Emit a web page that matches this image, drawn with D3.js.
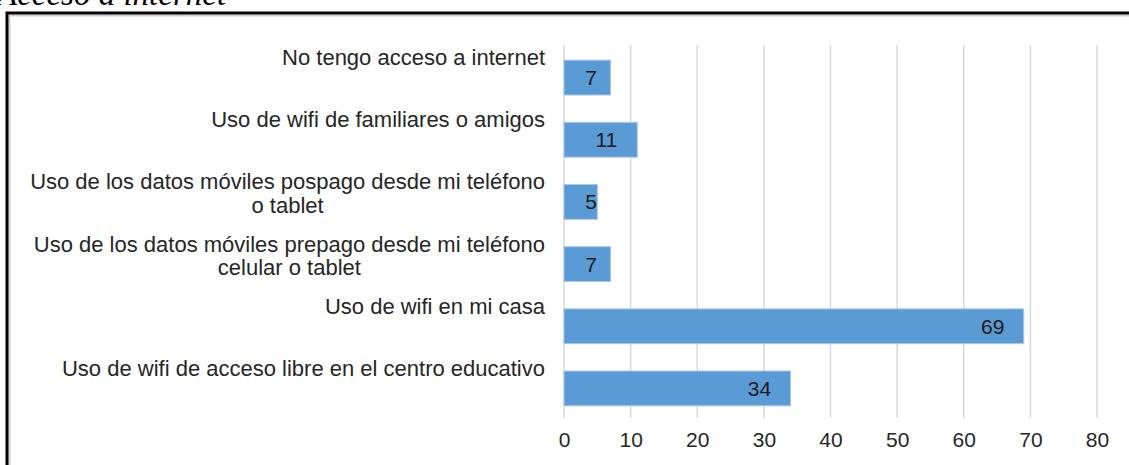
<!DOCTYPE html>
<html>
<head>
<meta charset="utf-8">
<script src="https://cdn.jsdelivr.net/npm/d3@7"></script>
<style>
    body { margin: 0; background: #fff; }
    svg { display: block; }
</style>
</head>
<body>
<div id="chart"></div>
<script>
// categories top to bottom, each label split into its lines
var categories = [
    ["No tengo acceso a internet"],
    ["Uso de wifi de familiares o amigos"],
    ["Uso de los datos móviles pospago desde mi teléfono", "o tablet"],
    ["Uso de los datos móviles prepago desde mi teléfono", "celular o tablet"],
    ["Uso de wifi en mi casa"],
    ["Uso de wifi de acceso libre en el centro educativo"]
];
var values = [7, 11, 5, 7, 69, 34];
var xTicks = [0, 10, 20, 30, 40, 50, 60, 70, 80];
var title = "Acceso a internet";

var width = 1129, height = 465;
var fontFam = "'Liberation Sans', Arial, sans-serif";

var svg = d3.select("#chart").append("svg")
    .attr("width", width)
    .attr("height", height);

// title, cut off at the top like the scan
svg.append("text")
    .attr("x", -3)
    .attr("y", 5)
    .attr("font-family", "'Liberation Serif', 'Times New Roman', serif")
    .attr("font-style", "italic")
    .attr("font-size", 33)
    .attr("fill", "#000")
    .text(title);

// frame (light inner line + black outer line)
svg.append("rect")
    .attr("x", 9.5).attr("y", 15.5)
    .attr("width", width + 20).attr("height", height + 20)
    .attr("fill", "none")
    .attr("stroke", "#d0d0d0")
    .attr("stroke-width", 2);
svg.append("rect")
    .attr("x", 7).attr("y", 13)
    .attr("width", width + 20).attr("height", height + 20)
    .attr("fill", "none")
    .attr("stroke", "#000")
    .attr("stroke-width", 3);

var plotTop = 45, plotBottom = 418;

var x = d3.scaleLinear()
    .domain([0, 80])
    .range([564, 1097]);

var y = d3.scaleBand()
    .domain(d3.range(categories.length))
    .range([plotTop + 1.5, plotBottom + 1.5])
    .paddingInner(0.44)
    .paddingOuter(0.22);

// vertical gridlines
svg.append("g")
    .selectAll("line")
    .data(xTicks)
    .enter().append("line")
    .attr("x1", function (d) { return x(d); })
    .attr("x2", function (d) { return x(d); })
    .attr("y1", plotTop)
    .attr("y2", plotBottom)
    .attr("stroke", "#d9d9d9")
    .attr("stroke-width", 1.5);

// x axis labels
var xAxis = d3.axisBottom(x)
    .tickValues(xTicks)
    .tickSize(0)
    .tickPadding(14);

var gx = svg.append("g")
    .attr("transform", "translate(0," + plotBottom + ")")
    .call(xAxis);
gx.select(".domain").remove();
gx.selectAll("text")
    .attr("font-family", fontFam)
    .attr("font-size", 21)
    .attr("fill", "#262626");

// bars
svg.append("g")
    .selectAll("rect")
    .data(values)
    .enter().append("rect")
    .attr("x", x(0))
    .attr("y", function (d, i) { return y(i); })
    .attr("width", function (d) { return x(d) - x(0); })
    .attr("height", y.bandwidth())
    .attr("fill", "#5b9bd5")
    .attr("stroke", "#a9c8ea")
    .attr("stroke-width", 1);

// value labels, inside end of bar
svg.append("g")
    .selectAll("text")
    .data(values)
    .enter().append("text")
    .attr("x", function (d) { return Math.max(x(d) - 31, x(0) + 27); })
    .attr("y", function (d, i) { return y(i) + y.bandwidth() / 2; })
    .attr("dy", "0.36em")
    .attr("text-anchor", "middle")
    .attr("font-family", fontFam)
    .attr("font-size", 21)
    .attr("fill", "#1a1a1a")
    .text(function (d) { return d; });

// category labels, top aligned with the bar
var lab = svg.append("g")
    .selectAll("text")
    .data(categories)
    .enter().append("text")
    .attr("text-anchor", "middle")
    .attr("font-family", fontFam)
    .attr("font-size", 22)
    .attr("fill", "#262626")
    .attr("transform", function (d, i) {
        return "translate(0," + (y(i) + y.bandwidth() / 2 - 12.5) + ")";
    });

lab.each(function (lines) {
    var t = d3.select(this);
    lines.forEach(function (line, k) {
        t.append("tspan")
            .attr("x", 0)
            .attr("y", k * 23.5)
            .text(line);
    });
});

// right align block to x=545, second lines centred under the first
lab.each(function (lines) {
    var t = d3.select(this);
    var spans = t.selectAll("tspan").nodes();
    var w0 = spans[0].getComputedTextLength();
    var cx = 545 - w0 / 2;
    spans.forEach(function (s) { d3.select(s).attr("x", cx); });
});
</script>
</body>
</html>
